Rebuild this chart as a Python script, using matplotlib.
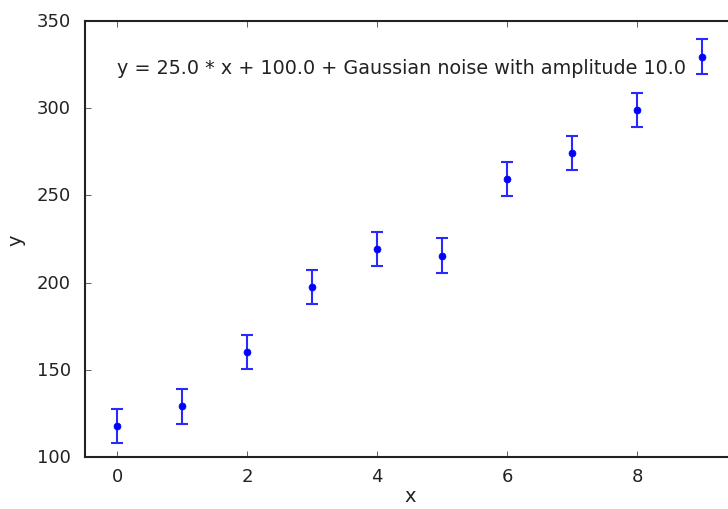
import matplotlib
matplotlib.use("Agg")
import matplotlib.pyplot as plt
import numpy as np

# data
x = [0, 1, 2, 3, 4, 5, 6, 7, 8, 9]
y = [117.8, 129.2, 160.2, 197.5, 219.3, 215.3, 259.4, 274.3, 299.0, 329.4]
yerr = [10.0] * len(x)
note = "y = 25.0 * x + 100.0 + Gaussian noise with amplitude 10.0"

plt.style.use('classic')
plt.rcParams['font.size'] = 13
plt.rcParams['text.color'] = '#222222'
plt.rcParams['xtick.color'] = '#222222'
plt.rcParams['ytick.color'] = '#222222'
plt.rcParams['axes.labelcolor'] = '#222222'

fig = plt.figure(figsize=(7.28, 5.10), dpi=100, facecolor='white')
ax = fig.add_axes([85 / 728, 1 - 458 / 510, 649.5 / 728, 436 / 510])

ax.errorbar(x, y, yerr=yerr, fmt='o', color='b', ecolor='#2a2aff',
            markersize=5, markeredgecolor='b', capsize=4.5, elinewidth=1.5,
            capthick=1.5)

ax.text(0, 320, note, fontsize=13.8)

ax.set_xlim(-0.5, 9.5)
ax.set_ylim(100, 350)
ax.set_xticks([0, 2, 4, 6, 8])
ax.set_yticks([100, 150, 200, 250, 300, 350])
ax.tick_params(axis='y', pad=10)
ax.tick_params(axis='x', pad=7)
ax.set_xlabel('x', fontsize=14, labelpad=1)
ax.set_ylabel('y', fontsize=14, labelpad=8)
for s in ax.spines.values():
    s.set_linewidth(1.5)
    s.set_color('#222222')

fig.savefig('out.png', dpi=100, facecolor='white')
